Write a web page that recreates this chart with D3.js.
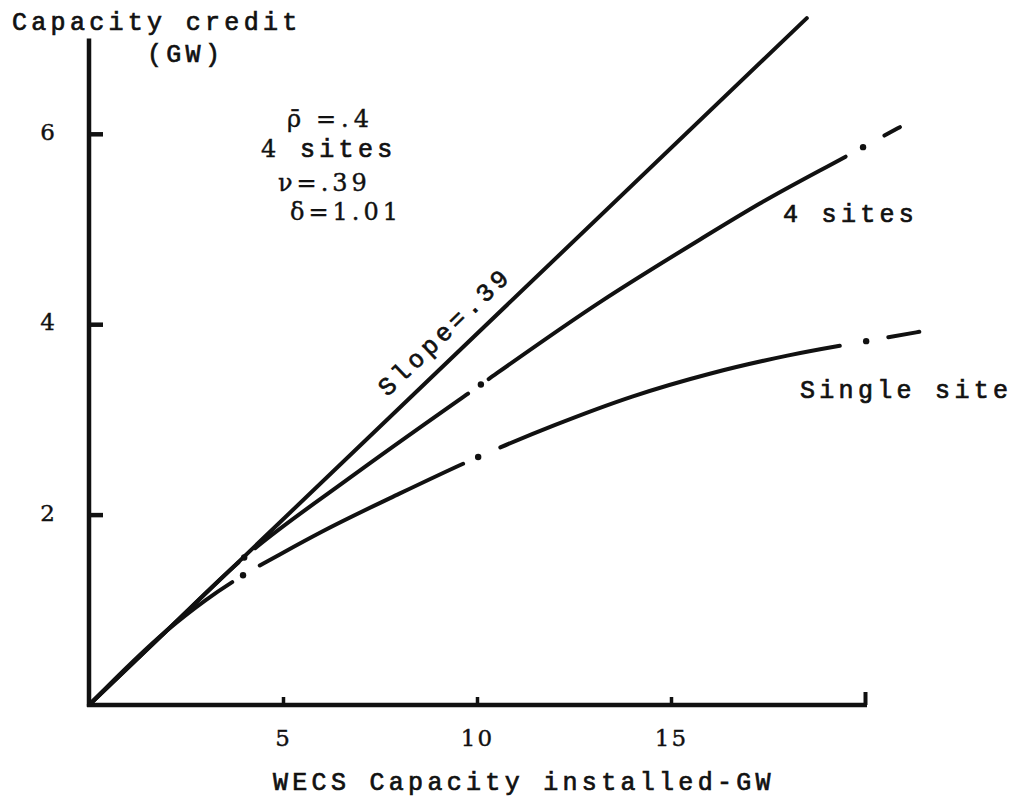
<!DOCTYPE html>
<html>
<head>
<meta charset="utf-8">
<script src="https://cdn.jsdelivr.net/npm/d3@7"></script>
<style>
  body { margin: 0; background: #fff; }
  svg { display: block; }
  .mono { font-family: "Liberation Mono", "Courier New", monospace; font-size: 25px; letter-spacing: 4.3px; fill: #111; stroke: #111; stroke-width: 0.7px; }
  .serif { font-family: "DejaVu Serif", serif; font-size: 24px; fill: #111; stroke: #111; stroke-width: 0.4px; }
</style>
</head>
<body>
<svg id="chart" width="1024" height="803"></svg>
<script>
// Axis ticks
const xTicks = [5, 10, 15, 20];
const xTickLabels = ["5", "10", "15", ""];
const yTicks = [2, 4, 6];

// Reference line: capacity credit = slope * installed capacity
const slopeValue = 0.39;
const slopeLineX = [0, 18.5];

// Capacity credit (GW) against installed WECS capacity (GW)
const fourSitesX = [0, 2, 4, 6.7, 9.8, 13.2, 15.75, 17.3, 19.5, 20.9];
const fourSitesY = [0, 0.78, 1.55, 2.38, 3.28, 4.24, 4.89, 5.27, 5.76, 6.07];
const singleSiteX = [0, 2, 3, 4, 5, 6, 8, 10, 12, 14, 16, 18, 20, 21.4];
const singleSiteY = [0, 0.78, 1.1, 1.37, 1.6, 1.82, 2.22, 2.6, 2.94, 3.24, 3.48, 3.67, 3.82, 3.92];

// Dash-dot breaks along each curve: [gap start, gap end, dot] in GW installed
const fourSitesBreaks = [[3.85, 4.28, 4.0], [9.77, 10.3, 10.1], [19.5, 20.5, 19.95]];
const singleSiteBreaks = [[3.69, 4.4, 3.97], [9.64, 10.6, 10.03], [19.35, 20.6, 20.03]];

const svg = d3.select("#chart");
const x = d3.scaleLinear().domain([0, 20]).range([89, 865]);
const y = d3.scaleLinear().domain([0, 7]).range([705, 38.6]);

// ---- axes ----
const xAxis = d3.axisBottom(x)
  .tickValues(xTicks)
  .tickFormat((d, i) => xTickLabels[i])
  .tickSize(-8)
  .tickSizeOuter(0)
  .tickPadding(25);
const gx = svg.append("g").attr("transform", `translate(0,${y(0)})`).call(xAxis);
gx.select(".domain").attr("stroke", "#111").attr("stroke-width", 4.5).attr("d", `M${x(0) - 2},0H${x(20) + 2}`);
gx.selectAll(".tick line").attr("stroke", "#111").attr("stroke-width", 3.5);
gx.selectAll(".tick").filter(d => d === 20).select("line").attr("y2", -13).attr("stroke-width", 4);
gx.selectAll(".tick text").attr("class", "serif").attr("fill", "#111").style("font-size", "23px").style("letter-spacing", "2px");

const yAxis = d3.axisLeft(y)
  .tickValues(yTicks)
  .tickFormat(d3.format("d"))
  .tickSize(-14)
  .tickSizeOuter(0)
  .tickPadding(34);
const gy = svg.append("g").attr("transform", `translate(${x(0)},0)`).call(yAxis);
gy.select(".domain").attr("stroke", "#111").attr("stroke-width", 4.5).attr("d", `M0,${y(0) + 2}V${y(7)}`);
gy.selectAll(".tick line").attr("stroke", "#111").attr("stroke-width", 4.5);
gy.selectAll(".tick text").attr("class", "serif").attr("fill", "#111").style("font-size", "23px").attr("dy", "0.25em");

// ---- curves ----
const line = d3.line().x(d => x(d[0])).y(d => y(d[1])).curve(d3.curveMonotoneX);

svg.append("path")
  .datum(slopeLineX.map(v => [v, slopeValue * v]))
  .attr("d", line)
  .attr("fill", "none").attr("stroke", "#111").attr("stroke-width", 4).attr("stroke-linecap", "round");

function lengthAtX(node, px) {
  let lo = 0, hi = node.getTotalLength();
  for (let k = 0; k < 40; k++) {
    const mid = (lo + hi) / 2;
    if (node.getPointAtLength(mid).x < px) lo = mid; else hi = mid;
  }
  return (lo + hi) / 2;
}

function brokenCurve(xs, ys, breaks) {
  const path = svg.append("path")
    .datum(xs.map((v, i) => [v, ys[i]]))
    .attr("d", line)
    .attr("fill", "none").attr("stroke", "#111").attr("stroke-width", 4).attr("stroke-linecap", "round");
  const node = path.node();
  const total = node.getTotalLength();
  const dashes = [];
  let prev = 0;
  breaks.forEach(b => {
    const a = lengthAtX(node, x(b[0]));
    const e = lengthAtX(node, x(b[1]));
    dashes.push(a - prev, e - a);
    prev = e;
  });
  dashes.push(total - prev, total);
  path.attr("stroke-dasharray", dashes.join(" "));
  svg.append("g").selectAll("circle")
    .data(breaks)
    .join("circle")
    .each(function (b) {
      const p = node.getPointAtLength(lengthAtX(node, x(b[2])));
      d3.select(this).attr("cx", p.x).attr("cy", p.y);
    })
    .attr("r", 3.2).attr("fill", "#111");
}

brokenCurve(fourSitesX, fourSitesY, fourSitesBreaks);
brokenCurve(singleSiteX, singleSiteY, singleSiteBreaks);

// ---- slope label, laid along the reference line ----
const angle = Math.atan2(y(0) - y(slopeValue), x(1) - x(0)) * 180 / Math.PI;
const sx = 7.98;
svg.append("text")
  .attr("class", "mono")
  .attr("transform", `translate(${x(sx)},${y(slopeValue * sx)}) rotate(${-angle}) translate(0,-16)`)
  .text("Slope=.39");

// ---- titles and curve labels ----
svg.append("text").attr("class", "mono").attr("x", 12).attr("y", 30).text("Capacity credit");
svg.append("text").attr("class", "mono").attr("x", 147).attr("y", 62).text("(GW)");
svg.append("text").attr("class", "mono").attr("x", 273).attr("y", 790).text("WECS Capacity installed-GW");
svg.append("text").attr("class", "mono").attr("x", 783).attr("y", 222).text("4 sites");
svg.append("text").attr("class", "mono").attr("x", 800).attr("y", 398).text("Single site");

// ---- parameter block ----
const note = svg.append("g");
note.append("text").attr("class", "serif").attr("x", 287).attr("y", 127).text("ρ\u0304");
note.append("text").attr("class", "serif").attr("x", 316).attr("y", 127).style("letter-spacing", "5px").text("=.4");
note.append("text").attr("class", "serif").attr("x", 261).attr("y", 157).text("4");
note.append("text").attr("class", "mono").attr("x", 300).attr("y", 157).text("sites");
note.append("text").attr("class", "serif").attr("x", 278).attr("y", 191).style("letter-spacing", "4px").text("ν=.39");
note.append("text").attr("class", "serif").attr("x", 290).attr("y", 220).style("letter-spacing", "4px").text("δ=1.01");
</script>
</body>
</html>
